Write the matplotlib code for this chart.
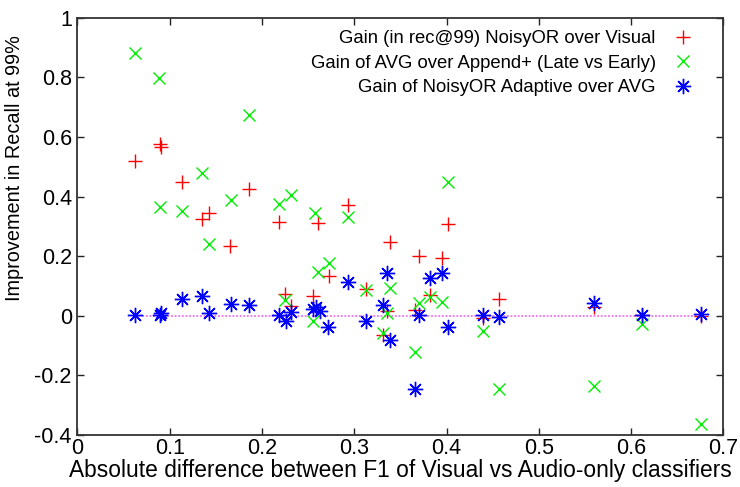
import matplotlib
matplotlib.use('Agg')
import matplotlib.pyplot as plt

# gain of NoisyOR over Visual (rec@99)
noisy_x = [0.0624, 0.0890, 0.0905, 0.1137, 0.1346, 0.1429, 0.1657, 0.1856,
           0.2180, 0.2250, 0.2314, 0.2556, 0.2610, 0.2726, 0.2935, 0.3124,
           0.3310, 0.3350, 0.3387, 0.3657, 0.3704, 0.3820, 0.3947, 0.4018,
           0.4398, 0.4568, 0.5597, 0.6117, 0.6756]
noisy_y = [0.520, 0.576, 0.565, 0.448, 0.323, 0.346, 0.234, 0.424,
           0.313, 0.072, 0.032, 0.066, 0.312, 0.133, 0.370, 0.090,
           -0.063, 0.015, 0.247, 0.019, 0.200, 0.068, 0.195, 0.309,
           -0.009, 0.055, 0.030, 0.001, 0.000]

# gain of AVG over Append+ (late vs early fusion)
avg_x = [0.0624, 0.0888, 0.0899, 0.1137, 0.1346, 0.1429, 0.1660, 0.1859,
         0.2180, 0.2250, 0.2314, 0.2556, 0.2574, 0.2610, 0.2726, 0.2935,
         0.3124, 0.3310, 0.3350, 0.3387, 0.3657, 0.3700, 0.3820, 0.3947,
         0.4018, 0.4398, 0.4568, 0.5597, 0.6117, 0.6756]
avg_y = [0.883, 0.797, 0.366, 0.350, 0.478, 0.242, 0.388, 0.674,
         0.374, 0.053, 0.404, -0.018, 0.344, 0.148, 0.178, 0.332,
         0.087, -0.057, 0.008, 0.093, -0.121, 0.042, 0.063, 0.047,
         0.448, -0.050, -0.247, -0.235, -0.026, -0.363]

# gain of NoisyOR adaptive over AVG
adapt_x = [0.0624, 0.0890, 0.0910, 0.1137, 0.1350, 0.1429, 0.1660, 0.1856,
           0.2180, 0.2255, 0.2314, 0.2556, 0.2590, 0.2627, 0.2720, 0.2935,
           0.3124, 0.3310, 0.3350, 0.3387, 0.3657, 0.3704, 0.3820, 0.3947,
           0.4018, 0.4398, 0.4568, 0.5597, 0.6117, 0.6756]
adapt_y = [0.002, 0.004, 0.010, 0.057, 0.065, 0.010, 0.039, 0.036,
           0.004, -0.017, 0.011, 0.022, 0.028, 0.016, -0.037, 0.112,
           -0.018, 0.036, 0.144, -0.083, -0.247, 0.004, 0.125, 0.143,
           -0.038, 0.001, -0.003, 0.042, 0.003, 0.005]

x_ticks = [0, 0.1, 0.2, 0.3, 0.4, 0.5, 0.6, 0.7]
x_labels = ['0', '0.1', '0.2', '0.3', '0.4', '0.5', '0.6', '0.7']
y_ticks = [-0.4, -0.2, 0, 0.2, 0.4, 0.6, 0.8, 1]
y_labels = ['-0.4', '-0.2', '0', '0.2', '0.4', '0.6', '0.8', '1']

plt.rcParams['font.family'] = ['Liberation Sans', 'DejaVu Sans']

fig = plt.figure(figsize=(7.4, 4.87), dpi=100)
ax = fig.add_axes([0.1046, 0.1068, 0.8731, 0.8569])

# zero reference line over the data range
ax.plot([min(noisy_x), max(noisy_x)], [0, 0], color='#f070f0', lw=1.3,
        ls=(0, (1, 1)), zorder=1)

ax.plot(noisy_x, noisy_y, ls='none', marker='+', ms=10, mew=1.0,
        color='#ff0000', label='Gain (in rec@99) NoisyOR over Visual', zorder=2)
ax.plot(avg_x, avg_y, ls='none', marker='x', ms=9, mew=1.0,
        color='#00ee00', label='Gain of AVG over Append+ (Late vs Early)', zorder=3)
ax.plot(adapt_x, adapt_y, ls='none', marker=(8, 2, 0), ms=11, mew=1.0,
        color='#0000ff', label='Gain of NoisyOR Adaptive over AVG', zorder=4)

ax.set_xlim(0, 0.7)
ax.set_ylim(-0.4, 1)
ax.set_xticks(x_ticks)
ax.set_xticklabels(x_labels, fontsize=15.5)
ax.set_yticks(y_ticks)
ax.set_yticklabels(y_labels, fontsize=15.5)
ax.tick_params(axis='x', pad=2)
ax.tick_params(direction='in', top=True, right=True, length=5, width=1,
               color='#222222')
ax.tick_params(axis='y', pad=4)
for s in ax.spines.values():
    s.set_color('#333333')
    s.set_linewidth(1.3)

ax.set_xlabel('Absolute difference between F1 of Visual vs Audio-only classifiers',
              fontsize=16.4, labelpad=0)
ax.set_ylabel('Improvement in Recall at 99%', fontsize=14.3)
# gnuplot put the label a bit above the middle of the axis
ax.yaxis.set_label_coords(-0.083, 0.64)

# gnuplot-style key: text right-aligned, marker to its right, no frame
ax.legend(loc='upper right', bbox_to_anchor=(0.968, 0.97), frameon=False,
          markerfirst=False, fontsize=13.3, borderpad=0, borderaxespad=0,
          handletextpad=0.45, labelspacing=0.4, handlelength=2.1)

fig.savefig('out.png', dpi=100)
